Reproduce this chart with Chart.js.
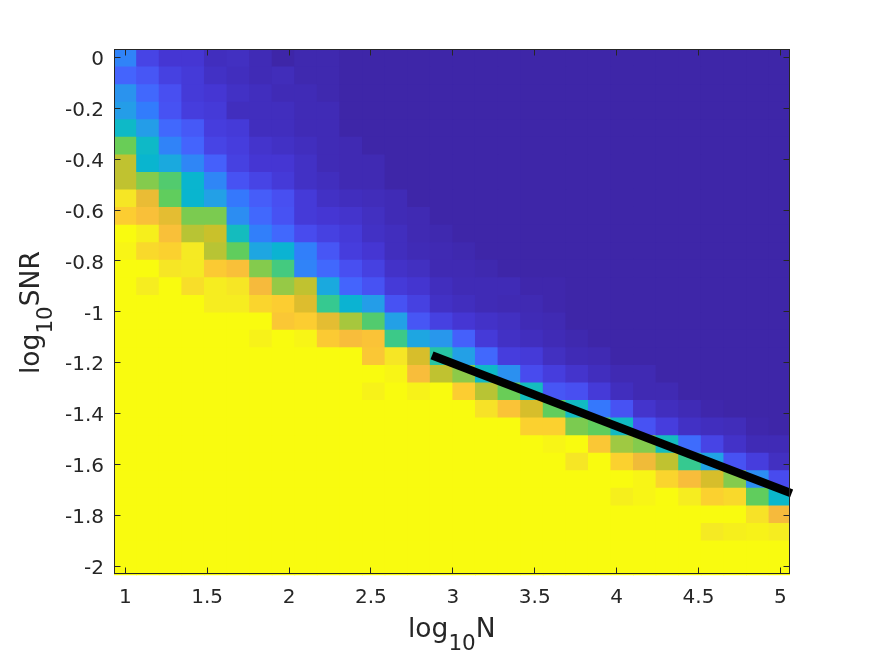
<!DOCTYPE html>
<html>
<head>
<meta charset="utf-8">
<title>log10 SNR vs log10 N</title>
<script src="https://cdn.jsdelivr.net/npm/chart.js@4"></script>
<style>
    html, body { margin: 0; padding: 0; background: #fff; }
    canvas { display: block; }
</style>
</head>
<body>
<canvas id="heat" width="874" height="656"></canvas>
<script>
const logN = [1, 1.138, 1.276, 1.414, 1.552, 1.69, 1.828, 1.966, 2.103, 2.241, 2.379, 2.517, 2.655, 2.793, 2.931, 3.069, 3.207, 3.345, 3.483, 3.621, 3.759, 3.897, 4.034, 4.172, 4.31, 4.448, 4.586, 4.724, 4.862, 5];
const logSNR = [0, -0.069, -0.138, -0.207, -0.276, -0.345, -0.414, -0.483, -0.552, -0.621, -0.69, -0.759, -0.828, -0.897, -0.966, -1.034, -1.103, -1.172, -1.241, -1.31, -1.379, -1.448, -1.517, -1.586, -1.655, -1.724, -1.793, -1.862, -1.931, -2];

// one row per logSNR, one value per logN (0 = dark blue, 1 = yellow)
const detection = [
    [.27,.10,.06,.06,.03,.035,.02,0,.01,.01,0,0,0,0,0,0,0,0,0,0,0,0,0,0,0,0,0,0,0,0],
    [.19,.15,.09,.07,.04,.03,.02,.025,.01,.01,0,0,0,0,0,0,0,0,0,0,0,0,0,0,0,0,0,0,0,0],
    [.32,.20,.13,.07,.06,.04,.03,.02,.02,.01,0,0,0,0,0,0,0,0,0,0,0,0,0,0,0,0,0,0,0,0],
    [.35,.25,.14,.08,.07,.03,.03,.03,.02,.02,0,0,0,0,0,0,0,0,0,0,0,0,0,0,0,0,0,0,0,0],
    [.46,.35,.20,.16,.08,.07,.03,.03,.02,.02,0,0,0,0,0,0,0,0,0,0,0,0,0,0,0,0,0,0,0,0],
    [.63,.46,.27,.19,.10,.08,.05,.04,.03,.02,.015,0,0,0,0,0,0,0,0,0,0,0,0,0,0,0,0,0,0,0],
    [.73,.44,.39,.28,.18,.09,.06,.06,.04,.02,.015,.015,0,0,0,0,0,0,0,0,0,0,0,0,0,0,0,0,0,0],
    [.73,.66,.60,.44,.28,.14,.10,.07,.04,.03,.015,.015,0,0,0,0,0,0,0,0,0,0,0,0,0,0,0,0,0,0],
    [.93,.79,.62,.44,.36,.24,.17,.13,.07,.04,.03,.025,.02,0,0,0,0,0,0,0,0,0,0,0,0,0,0,0,0,0],
    [.87,.83,.78,.65,.65,.30,.20,.14,.07,.06,.05,.035,.02,.015,0,0,0,0,0,0,0,0,0,0,0,0,0,0,0,0],
    [1,.96,.83,.72,.74,.48,.26,.20,.12,.09,.07,.04,.03,.015,.01,0,0,0,0,0,0,0,0,0,0,0,0,0,0,0],
    [.98,.90,.88,.94,.72,.62,.38,.43,.26,.15,.08,.06,.03,.02,.015,.01,0,0,0,0,0,0,0,0,0,0,0,0,0,0],
    [1,1,.93,.94,.86,.83,.66,.58,.27,.20,.13,.09,.045,.035,.015,.015,.01,0,0,0,0,0,0,0,0,0,0,0,0,0],
    [1,.95,1,.91,.95,.93,.81,.68,.73,.39,.19,.14,.07,.055,.03,.02,.02,.02,.005,.005,0,0,0,0,0,0,0,0,0,0],
    [1,1,1,1,.95,.95,.89,.87,.77,.56,.43,.35,.14,.09,.04,.03,.02,.015,.015,.005,0,0,0,0,0,0,0,0,0,0],
    [1,1,1,1,1,1,1,.85,.87,.78,.70,.60,.36,.15,.09,.06,.045,.035,.02,.015,0,0,0,0,0,0,0,0,0,0],
    [1,1,1,1,1,1,.97,1,.98,.86,.82,.84,.57,.38,.33,.18,.07,.04,.03,.02,.01,0,0,0,0,0,0,0,0,0],
    [1,1,1,1,1,1,1,1,1,1,1,.85,.93,.76,.53,.36,.20,.08,.07,.035,.02,.015,0,0,0,0,0,0,0,0],
    [1,1,1,1,1,1,1,1,1,1,1,1,.98,.82,.73,.67,.46,.31,.12,.08,.05,.03,.015,.015,0,0,0,0,0,0],
    [1,1,1,1,1,1,1,1,1,1,1,.97,1,.97,1,.87,.72,.63,.48,.15,.13,.07,.03,.015,.015,0,0,0,0,0],
    [1,1,1,1,1,1,1,1,1,1,1,1,1,1,1,1,.92,.84,.76,.62,.47,.24,.14,.05,.03,.02,.005,0,0,0],
    [1,1,1,1,1,1,1,1,1,1,1,1,1,1,1,1,1,1,.88,.88,.65,.62,.47,.14,.08,.04,.03,.025,.005,0],
    [1,1,1,1,1,1,1,1,1,1,1,1,1,1,1,1,1,1,1,.98,1,.85,.69,.66,.48,.21,.10,.045,.02,.02],
    [1,1,1,1,1,1,1,1,1,1,1,1,1,1,1,1,1,1,1,1,.93,1,.88,.80,.73,.56,.37,.14,.08,.035],
    [1,1,1,1,1,1,1,1,1,1,1,1,1,1,1,1,1,1,1,1,1,1,1,.98,.89,.82,.76,.66,.30,.12],
    [1,1,1,1,1,1,1,1,1,1,1,1,1,1,1,1,1,1,1,1,1,1,.96,.98,1,.95,.88,.90,.62,.45],
    [1,1,1,1,1,1,1,1,1,1,1,1,1,1,1,1,1,1,1,1,1,1,1,1,1,1,1,1,.92,.81],
    [1,1,1,1,1,1,1,1,1,1,1,1,1,1,1,1,1,1,1,1,1,1,1,1,1,1,.94,.96,.97,.95],
    [1,1,1,1,1,1,1,1,1,1,1,1,1,1,1,1,1,1,1,1,1,1,1,1,1,1,1,1,1,1],
    [1,1,1,1,1,1,1,1,1,1,1,1,1,1,1,1,1,1,1,1,1,1,1,1,1,1,1,1,1,1],
];

const boundaryN = [2.873, 5.069];
const boundarySNR = [-1.171, -1.713];

const CELL_HALF = 0.0345;
const TEXT_COLOR = "#262626";
const FONT = '"DejaVu Sans", sans-serif';

// parula, sampled every 4th entry
const parula = [
    [62, 38, 168], [69, 55, 213], [72, 77, 240], [69, 99, 253],
    [50, 124, 252], [43, 145, 239], [32, 165, 227], [8, 181, 208],
    [25, 191, 182], [55, 201, 142], [100, 205, 89], [157, 201, 67],
    [209, 191, 39], [248, 186, 61], [252, 207, 48], [245, 233, 36],
    [249, 251, 15],
];

function parulaColor(v) {
    const pos = Math.min(v, 1) * (parula.length - 1);
    const i = Math.min(Math.floor(pos), parula.length - 2);
    const t = pos - i;
    const c = parula[i].map((a, k) => Math.round(a + (parula[i + 1][k] - a) * t));
    return `rgb(${c[0]}, ${c[1]}, ${c[2]})`;
}

const cellDatasets = logSNR.map((snr, r) => ({
    type: "bar",
    order: 1,
    data: logN.map((n) => ({ x: n, y: [snr - CELL_HALF, snr + CELL_HALF] })),
    backgroundColor: detection[r].map(parulaColor),
    categoryPercentage: 1,
    barPercentage: 1,
    grouped: false,
    inflateAmount: 0.5, // no white seams between cells
    clip: { left: 0, top: 0, right: 0, bottom: 1.2 },
}));

const boundaryDataset = {
    type: "line",
    order: 0,
    data: boundaryN.map((n, i) => ({ x: n, y: boundarySNR[i] })),
    borderColor: "#000",
    borderWidth: 8.4,
    borderCapStyle: "butt",
    pointRadius: 0,
    clip: false,
};

// MATLAB style box: inward ticks on all four sides
const axisBox = {
    id: "axisBox",
    afterDatasetsDraw(chart) {
        const { ctx, chartArea: a, scales } = chart;
        const len = 6.5;
        ctx.save();
        ctx.strokeStyle = TEXT_COLOR;
        ctx.lineWidth = 1;
        ctx.beginPath();
        scales.x.ticks.forEach((t) => {
            const p = Math.floor(scales.x.getPixelForValue(t.value)) + 0.5;
            ctx.moveTo(p, a.top);
            ctx.lineTo(p, a.top + len);
            ctx.moveTo(p, a.bottom);
            ctx.lineTo(p, a.bottom - len);
        });
        scales.y.ticks.forEach((t) => {
            const p = Math.floor(scales.y.getPixelForValue(t.value)) + 0.5;
            ctx.moveTo(a.left, p);
            ctx.lineTo(a.left + len, p);
            ctx.moveTo(a.right, p);
            ctx.lineTo(a.right - len, p);
        });
        ctx.stroke();
        ctx.strokeRect(a.left + 0.5, a.top + 0.5, a.right - a.left - 1, a.bottom - a.top - 1);
        ctx.restore();
    },
    afterDraw(chart) {
        const { ctx } = chart;
        ctx.save();
        ctx.fillStyle = TEXT_COLOR;
        ctx.textBaseline = "alphabetic";
        drawSubLabel(ctx, "N", 408, 636.7);
        ctx.translate(38.7, 374);
        ctx.rotate(-Math.PI / 2);
        drawSubLabel(ctx, "SNR", 0, 0);
        ctx.restore();
    },
};

function drawSubLabel(ctx, tail, x, y) {
    ctx.font = `26.5px ${FONT}`;
    ctx.fillText("log", x, y);
    x += ctx.measureText("log").width;
    ctx.font = `21.5px ${FONT}`;
    ctx.fillText("10", x, y + 13.3);
    x += ctx.measureText("10").width;
    ctx.font = `26.5px ${FONT}`;
    ctx.fillText(tail, x, y);
}

const plainTick = (v) => String(Math.round(v * 10) / 10);

new Chart(document.getElementById("heat"), {
    type: "bar",
    data: { datasets: [...cellDatasets, boundaryDataset] },
    plugins: [axisBox],
    options: {
        responsive: false,
        animation: false,
        events: [],
        layout: { padding: { top: 49, right: 84, left: 0, bottom: 0 } },
        plugins: { legend: { display: false }, tooltip: { enabled: false } },
        scales: {
            x: {
                type: "linear",
                offset: false,
                min: 0.931,
                max: 5.059,
                grid: { display: false, drawTicks: false },
                border: { display: false },
                afterFit: (axis) => { axis.height = 82; },
                ticks: {
                    stepSize: 0.5,
                    includeBounds: false,
                    autoSkip: false,
                    maxRotation: 0,
                    padding: 12,
                    color: TEXT_COLOR,
                    font: { family: FONT, size: 20 },
                    callback: plainTick,
                },
            },
            y: {
                type: "linear",
                min: -2.03,
                max: 0.0326,
                grid: { display: false, drawTicks: false },
                border: { display: false },
                afterFit: (axis) => { axis.width = 114; },
                ticks: {
                    stepSize: 0.2,
                    includeBounds: false,
                    autoSkip: false,
                    padding: 10,
                    labelOffset: 2.5,
                    color: TEXT_COLOR,
                    font: { family: FONT, size: 20 },
                    callback: plainTick,
                },
            },
        },
    },
});
</script>
</body>
</html>
